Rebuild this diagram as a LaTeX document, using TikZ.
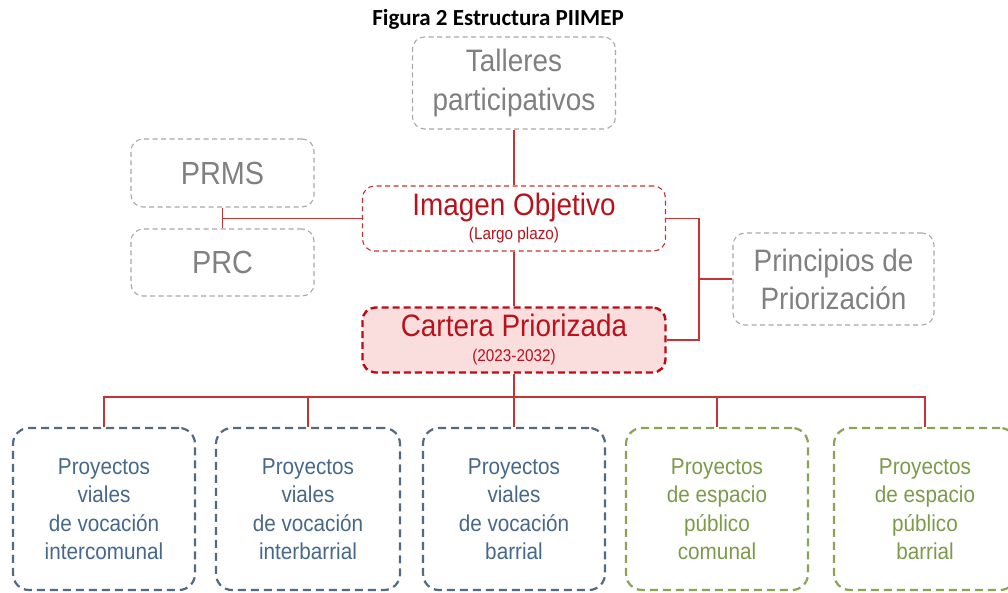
\documentclass[tikz,border=0pt]{standalone}
\usepackage{fontspec}
\setmainfont{Liberation Sans}
\newfontfamily\arialn[FakeStretch=0.9]{Liberation Sans}
\newfontfamily\calibri{Carlito}
\definecolor{graytext}{RGB}{128,128,128}
\definecolor{grayline}{RGB}{168,168,168}
\definecolor{redtext}{RGB}{185,18,28}
\definecolor{redline}{RGB}{196,52,52}
\definecolor{cartfill}{RGB}{250,222,222}
\definecolor{cartline}{RGB}{190,10,20}
\definecolor{bluetext}{RGB}{70,104,138}
\definecolor{blueline}{RGB}{84,106,130}
\definecolor{greentext}{RGB}{125,154,74}
\definecolor{greenline}{RGB}{140,162,88}
\tikzset{
  graybox/.style={draw=grayline, line width=1.1pt, dash pattern=on 5pt off 3.5pt,
    rounded corners=12pt, text=graytext, inner sep=0pt, align=center,
    font=\arialn\fontsize{31}{39}\selectfont},
  redbox/.style={draw=redline, line width=1.1pt, dash pattern=on 5pt off 3.5pt,
    rounded corners=12pt, text=redtext, inner sep=0pt, align=center,
    font=\arialn\fontsize{31}{24}\selectfont},
  cartbox/.style={draw=cartline, fill=cartfill, line width=2.4pt, dash pattern=on 7pt off 4pt,
    rounded corners=13pt, text=redtext, inner sep=0pt, align=center,
    font=\arialn\fontsize{31}{25}\selectfont},
  bluebox/.style={draw=blueline, line width=2.2pt, dash pattern=on 8pt off 5pt,
    rounded corners=16pt, text=bluetext, inner sep=0pt, align=center,
    minimum width=182pt, minimum height=162pt,
    font=\arialn\fontsize{23}{28.5}\selectfont},
  greenbox/.style={bluebox, draw=greenline, text=greentext},
  conn/.style={draw=redline, line width=1.3pt},
}
\begin{document}
\begin{tikzpicture}[x=1pt,y=-1pt]
\useasboundingbox (0,0) rectangle (1008,592);
\clip (0,0) rectangle (1008,592);
\fill[white] (0,0) rectangle (1008,592);

\node[font=\calibri\bfseries\fontsize{23}{25}\selectfont, anchor=base] (title) at (498,25) {Figura 2 Estructura PIIMEP};

\node[graybox, minimum width=203pt, minimum height=92pt] (talleres) at (514,83) {Talleres\\participativos};
\node[graybox, minimum width=183pt, minimum height=68pt, font=\arialn\fontsize{32}{38}\selectfont] (prms) at (222.5,173) {PRMS};
\node[graybox, minimum width=183pt, minimum height=67pt, font=\arialn\fontsize{32}{38}\selectfont] (prc) at (222.5,262.5) {PRC};
\node[redbox, minimum width=303pt, minimum height=65pt] (imagen) at (514,218.5)
  {Imagen Objetivo\\{\fontsize{17}{24}\selectfont (Largo plazo)}};
\node[cartbox, minimum width=303pt, minimum height=65pt] (cartera) at (514,340)
  {Cartera Priorizada\\{\fontsize{17}{25}\selectfont (2023-2032)}};
\node[graybox, minimum width=201pt, minimum height=92pt, font=\arialn\fontsize{31}{38}\selectfont] (princ) at (833.5,279) {Principios de\\Priorización};

\node[bluebox] (b1) at (104,509) {Proyectos\\viales\\de vocación\\intercomunal};
\node[bluebox, minimum width=184pt] (b2) at (308,509) {Proyectos\\viales\\de vocación\\interbarrial};
\node[bluebox] (b3) at (514,509) {Proyectos\\viales\\de vocación\\barrial};
\node[greenbox] (b4) at (717,509) {Proyectos\\de espacio\\público\\comunal};
\node[greenbox] (b5) at (925,509) {Proyectos\\de espacio\\público\\barrial};

\coordinate (bus) at (514,397);
\coordinate (brk) at (699,279);

\draw[conn] (talleres.south) -- (imagen.north);
\draw[conn] (imagen.south) -- (cartera.north);
\draw[conn] (prms.south) -- (prc.north);
\draw[conn] (imagen.west) -- (imagen.west -| prms.south);
\draw[conn] (imagen.east) -- (imagen.east -| brk) -- (cartera.east -| brk) -- (cartera.east);
\draw[conn] (princ.west) -- (brk);
\draw[conn] (cartera.south) -- (b3.north);
\draw[conn] (b1.north) -- (b1.north |- bus) -- (b5.north |- bus) -- (b5.north);
\draw[conn] (b2.north) -- (b2.north |- bus);
\draw[conn] (b4.north) -- (b4.north |- bus);
\end{tikzpicture}
\end{document}
